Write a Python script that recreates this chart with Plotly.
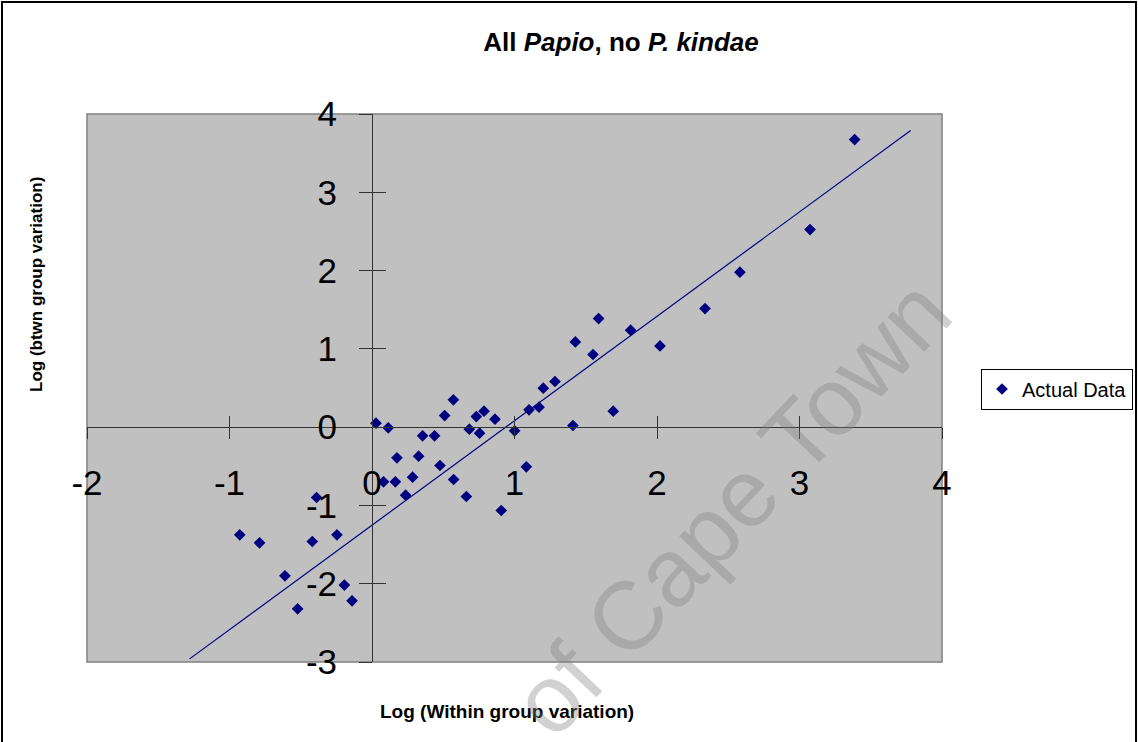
import plotly.graph_objects as go

# ---- data ----
x_within = [-0.928, -0.789, -0.389, -0.419, -0.246, -0.611, -0.194, -0.140, -0.522,
            0.028, 0.114, 0.355, 0.439, 0.683, 0.755, 0.175, 0.327, 0.477, 0.285,
            0.081, 0.164, 0.573, 0.236, 0.662,
            0.571, 0.510, 0.732, 0.786, 0.863,
            1.001, 1.102, 1.172, 1.202, 1.284, 1.427, 1.551, 1.590, 1.815, 1.410, 1.693,
            1.083, 0.907,
            2.021, 2.337, 2.582, 3.074, 3.387]
y_btwn = [-1.376, -1.478, -0.899, -1.461, -1.376, -1.899, -2.018, -2.218, -2.321,
          0.051, -0.009, -0.111, -0.111, -0.026, -0.077, -0.392, -0.371, -0.490, -0.639,
          -0.699, -0.699, -0.669, -0.869, -0.886,
          0.349, 0.148, 0.135, 0.204, 0.102,
          -0.047, 0.221, 0.255, 0.498, 0.583, 1.089, 0.928, 1.387, 1.239, 0.021, 0.204,
          -0.507, -1.065,
          1.038, 1.515, 1.979, 2.524, 3.673]
trend_x = [-1.28, 3.78]
trend_y = [-2.96, 3.79]

x_tick_vals = [-2, -1, 0, 1, 2, 3, 4]
x_tick_text = ["-2", "-1", "0", "1", "2", "3", "4"]
y_tick_vals = [-3, -2, -1, 0, 1, 2, 3, 4]
y_tick_text = ["-3", "-2", "-1", "0", "1", "2", "3", "4"]

X_RANGE = [-2, 4]
Y_RANGE = [-3, 4]

FONT = "Liberation Sans, Arial, sans-serif"
NAVY = "#000080"

fig = go.Figure()
fig.add_trace(go.Scatter(
    x=x_within, y=y_btwn, mode="markers", name="Actual Data",
    marker=dict(symbol="diamond", size=9, color=NAVY),
    xaxis="x", yaxis="y",
))
fig.add_trace(go.Scatter(
    x=trend_x, y=trend_y, mode="lines", showlegend=False,
    line=dict(color=NAVY, width=1.2),
    xaxis="x2", yaxis="y2", hoverinfo="skip",
))

x_pos = (0 - Y_RANGE[0]) / (Y_RANGE[1] - Y_RANGE[0])
y_pos = (0 - X_RANGE[0]) / (X_RANGE[1] - X_RANGE[0])

axis_common = dict(showgrid=False, zeroline=False, fixedrange=True, automargin=False)

fig.update_layout(
    width=1138, height=742,
    margin=dict(l=87, r=196, t=114, b=80, pad=0, autoexpand=False),
    paper_bgcolor="white",
    plot_bgcolor="#c0c0c0",
    font=dict(family=FONT, color="black"),
    title=dict(
        text="<b>All <i>Papio</i>, no <i>P. kindae</i></b>",
        font=dict(size=26, family=FONT, color="black"),
        x=621 / 1138, xref="container", xanchor="center",
        y=1 - 42 / 742, yref="container", yanchor="middle",
    ),
    xaxis=dict(range=X_RANGE, tickvals=x_tick_vals, ticktext=x_tick_text,
               ticks="outside", ticklen=11, tickwidth=1, tickcolor="#333333",
               showline=True, linecolor="#333333", linewidth=1,
               anchor="free", position=x_pos,
               tickfont=dict(size=35, family=FONT, color="black"),
               ticklabelstandoff=14, **axis_common),
    yaxis=dict(range=Y_RANGE, tickvals=y_tick_vals, ticktext=y_tick_text,
               ticks="outside", ticklen=13, tickwidth=1, tickcolor="#333333",
               showline=True, linecolor="#333333", linewidth=1,
               anchor="free", position=y_pos,
               tickfont=dict(size=35, family=FONT, color="black"),
               ticklabelstandoff=15, **axis_common),
    xaxis2=dict(range=X_RANGE, tickvals=x_tick_vals, overlaying="x",
                ticks="inside", ticklen=11, tickwidth=1, tickcolor="#333333",
                showticklabels=False, showline=False,
                anchor="free", position=x_pos, **axis_common),
    yaxis2=dict(range=Y_RANGE, tickvals=y_tick_vals, overlaying="y",
                ticks="inside", ticklen=13, tickwidth=1, tickcolor="#333333",
                showticklabels=False, showline=False,
                anchor="free", position=y_pos, **axis_common),
    legend=dict(x=(981 - 87) / 855, y=(662 - 389) / 548, xanchor="left", yanchor="middle",
                bgcolor="white", bordercolor="black", borderwidth=1,
                font=dict(size=20, family=FONT, color="black"),
                itemwidth=30, tracegroupgap=0),
    showlegend=True,
    shapes=[
        dict(type="rect", xref="x domain", yref="y domain", x0=0, x1=1, y0=0, y1=1,
             line=dict(color="#808080", width=1.5), layer="below"),
        dict(type="rect", xref="paper", yref="paper",
             x0=(2 - 87) / 855, x1=(1136 - 87) / 855,
             y0=(662 - 760) / 548, y1=(662 - 2) / 548,
             line=dict(color="black", width=2)),
    ],
    annotations=[
        dict(text="<b>Log (Within group variation)</b>", xref="paper", yref="paper",
             x=(507 - 87) / 855, y=(662 - 711) / 548, xanchor="center", yanchor="middle",
             showarrow=False, font=dict(size=19, family=FONT, color="black")),
        dict(text="<b>Log (btwn group variation)</b>", xref="paper", yref="paper",
             x=(36 - 87) / 855, y=(662 - 285) / 548, xanchor="center", yanchor="middle",
             textangle=-90, showarrow=False, font=dict(size=17, family=FONT, color="black")),
        dict(text="of Cape Town", xref="paper", yref="paper",
             x=(730 - 87) / 855, y=(662 - 507) / 548, xanchor="center", yanchor="middle",
             textangle=-46.5, showarrow=False,
             font=dict(size=96, family=FONT, color="rgba(128,128,128,0.36)")),
    ],
)

fig.write_html("out.html", config={"displayModeBar": False},
               post_script="document.body.style.margin='0';document.body.style.overflow='hidden';")
